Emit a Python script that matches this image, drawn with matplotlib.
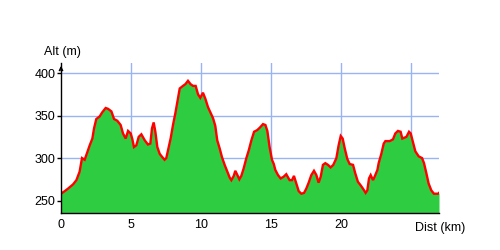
import matplotlib
matplotlib.use("Agg")
import matplotlib.pyplot as plt

dist_km = [0.0, 0.26, 0.5, 0.86, 1.1, 1.33, 1.5, 1.69, 1.88, 2.05, 2.24, 2.36, 2.52, 2.76, 2.95,
           3.19, 3.36, 3.6, 3.79, 4.02, 4.26, 4.43, 4.62, 4.79, 4.98, 5.1, 5.21, 5.38, 5.55,
           5.74, 5.98, 6.21, 6.38, 6.5, 6.62, 6.74, 6.88, 7.05, 7.24, 7.4, 7.52, 7.64, 7.83,
           8.0, 8.17, 8.31, 8.48, 8.71, 8.88, 9.07, 9.26, 9.43, 9.62, 9.79, 9.95, 10.14,
           10.31, 10.5, 10.69, 10.86, 11.02, 11.16, 11.34, 11.5, 11.69, 11.88, 12.05, 12.17,
           12.34, 12.45, 12.6, 12.74, 12.88, 13.05, 13.24, 13.41, 13.6, 13.79, 14.02, 14.21,
           14.43, 14.6, 14.74, 14.9, 15.07, 15.2, 15.31, 15.5, 15.69, 15.9, 16.09, 16.33, 16.5,
           16.64, 16.81, 16.98, 17.17, 17.36, 17.52, 17.69, 17.88, 18.07, 18.24, 18.4, 18.55,
           18.71, 18.88, 19.07, 19.26, 19.45, 19.67, 19.83, 19.98, 20.12, 20.26, 20.45, 20.62,
           20.86, 21.02, 21.21, 21.4, 21.57, 21.76, 21.88, 22.0, 22.12, 22.29, 22.4, 22.6,
           22.69, 22.88, 23.05, 23.17, 23.48, 23.71, 23.88, 24.07, 24.26, 24.38, 24.67, 24.86,
           24.98, 25.14, 25.31, 25.55, 25.79, 25.93, 26.1, 26.26, 26.45, 26.64, 26.93, 27.0]
alt_m = [258, 261, 264, 269, 274, 284, 300, 298, 307, 315, 323, 335, 346, 349, 354,
         359, 358, 355, 346, 344, 339, 329, 323, 332, 329, 322, 313, 315, 325,
         328, 321, 316, 317, 335, 342, 331, 313, 305, 301, 298, 300, 309, 323,
         339, 353, 366, 382, 385, 387, 391, 387, 385, 385, 375, 371, 377,
         370, 360, 353, 347, 338, 321, 311, 301, 292, 284, 277, 274,
         279, 285, 280, 275, 279, 288, 300, 309, 321, 331, 333, 336,
         340, 339, 332, 313, 298, 293, 286, 280, 276, 278, 281, 274, 274,
         279, 270, 261, 258, 259, 264, 271, 280, 285, 280, 271, 278,
         292, 294, 292, 289, 292, 300, 315, 326, 323, 312, 299, 293,
         292, 282, 272, 268, 264, 259, 262, 276, 280, 274, 278, 286,
         294, 305, 317, 320, 320, 322, 329, 332, 331, 323, 325, 331,
         329, 319, 308, 302, 300, 294, 282, 270, 262, 258, 258, 259]

x_ticks = [0, 5, 10, 15, 20]
x_grid = [5, 10, 15, 20, 25]
y_ticks = [250, 300, 350, 400]

plt.rcParams['font.family'] = ['Liberation Sans', 'DejaVu Sans']

fig = plt.figure(figsize=(5, 2.5), dpi=100)
ax = fig.add_axes([0.122, 0.148, 0.756, 0.60])
ymin, ymax = 235.3, 412
ax.set_xlim(0, 27.0)
ax.set_ylim(ymin, ymax)

grid_c = '#99b4f2'
for g in x_grid:
    ax.axvline(g, color=grid_c, lw=1, zorder=1)
for g in y_ticks:
    ax.axhline(g, color=grid_c, lw=1, zorder=1)

ax.fill_between(dist_km, alt_m, ymin, color='#2ecc40', lw=0, zorder=2)
ax.plot(dist_km, alt_m, color='#ff0000', lw=1.7, zorder=3, solid_joinstyle='miter')

ax.set_xticks(x_ticks)
ax.set_xticklabels([str(t) for t in x_ticks])
ax.set_yticks(y_ticks)
ax.set_yticklabels([str(t) for t in y_ticks])
ax.tick_params(axis='x', length=0, pad=4, labelsize=9)
ax.tick_params(axis='y', length=3, width=1, pad=1, labelsize=9)

for s in ['top', 'right']:
    ax.spines[s].set_visible(False)
for s in ['left', 'bottom']:
    ax.spines[s].set_color('black')
    ax.spines[s].set_linewidth(1)
    ax.spines[s].set_zorder(4)

ax.annotate('', xy=(0, 1.0), xytext=(0, 0.93), xycoords='axes fraction',
            arrowprops=dict(arrowstyle='->', lw=1, color='black', mutation_scale=6))

fig.text(0.124, 0.79, 'Alt (m)', ha='center', va='center', fontsize=9)
fig.text(0.88, 0.09, 'Dist (km)', ha='center', va='center', fontsize=9)

fig.savefig('out.png', dpi=100, facecolor='white')
